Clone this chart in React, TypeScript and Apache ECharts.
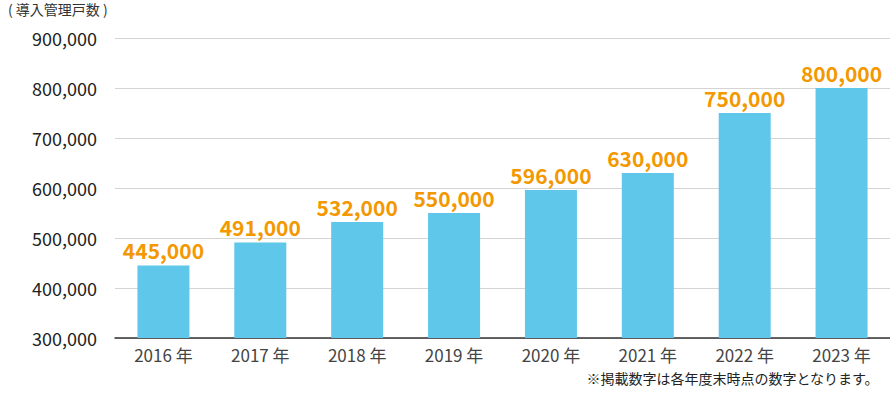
import React, { useEffect, useRef } from "react";
import * as echarts from "echarts";

const categories = ["2016 年", "2017 年", "2018 年", "2019 年", "2020 年", "2021 年", "2022 年", "2023 年"];
const values = [445000, 491000, 532000, 550000, 596000, 630000, 750000, 800000];
const yTicks = { min: 300000, max: 900000, interval: 100000 };
const titleText = "( 導入管理戸数 )";
const noteText = "※掲載数字は各年度末時点の数字となります。";

const FONT = "'Noto Sans CJK JP', 'Noto Sans', sans-serif";

export default function App() {
  const ref = useRef<HTMLDivElement>(null);
  useEffect(() => {
    if (!ref.current) return;
    const chart = echarts.init(ref.current, undefined, { renderer: "svg" });
    chart.setOption({
      animation: false,
      textStyle: { fontFamily: FONT },
      grid: { left: 115, right: 0, top: 38, bottom: 55 },
      graphic: [
        {
          type: "text",
          left: 8,
          top: 2,
          style: { text: titleText, fontSize: 14, fill: "#333", fontFamily: FONT },
        },
        {
          type: "text",
          right: 11,
          top: 371,
          style: { text: noteText, fontSize: 14, fill: "#222", fontFamily: FONT },
        },
      ],
      xAxis: {
        type: "category",
        data: categories,
        axisTick: { show: false },
        axisLine: { lineStyle: { color: "#333", width: 1.5 } },
        axisLabel: { color: "#444", fontSize: 17, margin: 8, fontFamily: FONT },
      },
      yAxis: {
        type: "value",
        min: yTicks.min,
        max: yTicks.max,
        interval: yTicks.interval,
        axisLine: { show: false },
        axisTick: { show: false },
        splitLine: { lineStyle: { color: "#d4d4d4", width: 1 } },
        axisLabel: {
          color: "#222",
          fontSize: 18,
          margin: 18,
          fontFamily: FONT,
          formatter: (v: number) => v.toLocaleString("en-US"),
        },
      },
      series: [
        {
          type: "bar",
          data: values,
          barWidth: 52,
          itemStyle: { color: "#5ec7ea" },
          label: {
            show: true,
            position: "top",
            distance: 5,
            color: "#f39800",
            fontSize: 21,
            fontWeight: "bold",
            fontFamily: FONT,
            formatter: (p: any) => Number(p.value).toLocaleString("en-US"),
          },
        },
      ],
    });
    return () => chart.dispose();
  }, []);
  return (
    <div style={{ position: "fixed", left: 0, top: 0, width: 890, height: 393, background: "#fff" }}>
      <div ref={ref} style={{ width: 890, height: 393 }} />
    </div>
  );
}
